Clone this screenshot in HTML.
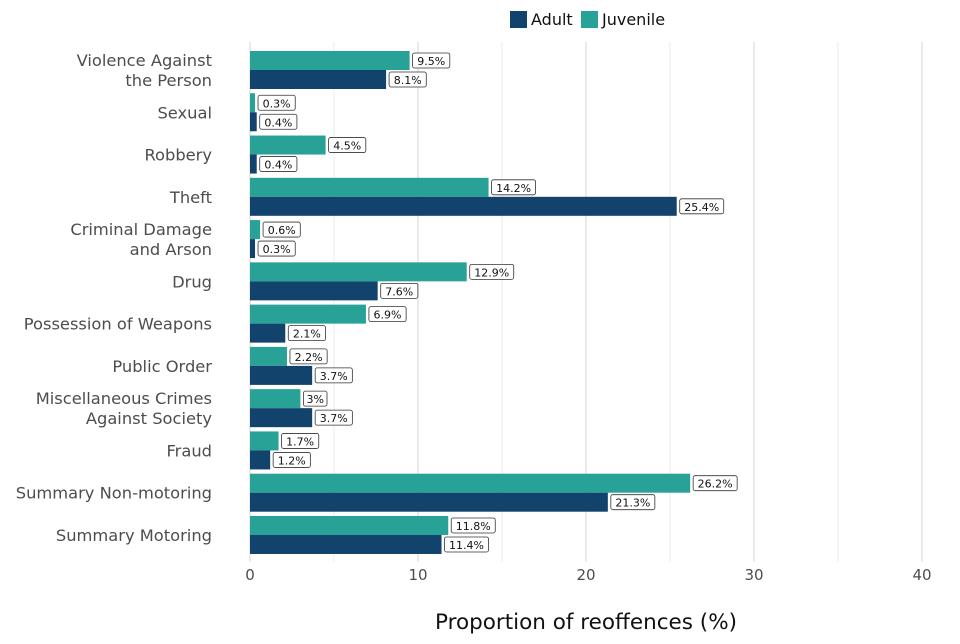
<!DOCTYPE html>
<html><head><meta charset="utf-8"><style>
body{margin:0;background:#fff;width:960px;height:640px;overflow:hidden;font-family:"DejaVu Sans","Liberation Sans",sans-serif}
</style></head><body>
<svg id="chart" width="960" height="640" xmlns="http://www.w3.org/2000/svg" font-family="DejaVu Sans, Liberation Sans, sans-serif"></svg>
<script>
const categories=[["Violence Against","the Person"],["Sexual"],["Robbery"],["Theft"],["Criminal Damage","and Arson"],["Drug"],["Possession of Weapons"],["Public Order"],["Miscellaneous Crimes","Against Society"],["Fraud"],["Summary Non-motoring"],["Summary Motoring"]];
const juvenileValues=[9.5,0.3,4.5,14.2,0.6,12.9,6.9,2.2,3,1.7,26.2,11.8];
const adultValues=[8.1,0.4,0.4,25.4,0.3,7.6,2.1,3.7,3.7,1.2,21.3,11.4];
const xTicks=[0,10,20,30,40];
const minorTicks=[5,15,25,35];
const NS="http://www.w3.org/2000/svg";
const svg=document.getElementById('chart');
const x=v=>250+v*16.8;
const yc=i=>70+i*42.27;
function el(t,a,p){const e=document.createElementNS(NS,t);for(const k in a)e.setAttribute(k,a[k]);(p||svg).appendChild(e);return e;}
const plotTop=42,plotBot=562;
minorTicks.forEach(t=>{const l=el('line',{x1:x(t),x2:x(t),y1:plotTop,y2:plotBot,stroke:'#ebebeb','stroke-width':1});

});
xTicks.forEach(t=>{const l=el('line',{x1:x(t),x2:x(t),y1:plotTop,y2:plotBot,stroke:'#d4d4d4','stroke-width':1});


const tx=el('text',{x:x(t),y:580,'text-anchor':'middle','font-size':15,fill:'#4d4d4d'});tx.textContent=t;

});
function bar(v,y0,color,name){
 const r=el('rect',{x:x(0),y:y0,width:x(v)-x(0),height:19,fill:color});
 
 
 const txt=v+'%';const w=txt.length*6.8+10;
 const b=el('rect',{x:x(v)+3,y:y0+2,width:w,height:15,rx:2,fill:'#fff',stroke:'#333','stroke-width':0.8});
 
 
 const t=el('text',{x:x(v)+3+w/2,y:y0+14,'text-anchor':'middle','font-size':11,fill:'#111'});t.textContent=txt;
 
 
}
categories.forEach((c,i)=>{
 const y=yc(i);
 bar(juvenileValues[i],y-19,'#28a197','juvenile-bar');
 bar(adultValues[i],y,'#12436d','adult-bar');
 const t=el('text',{x:212,'text-anchor':'end','font-size':16.3,fill:'#4d4d4d'});
 
 
 c.forEach((line,j)=>{const s=el('tspan',{x:212,y:y+6+(c.length===2?(j===0?-10:10):0)},t);s.textContent=line;});
});
const title=el('text',{x:586,y:629,'text-anchor':'middle','font-size':21.5,fill:'#111'});title.textContent='Proportion of reoffences (%)';


[['Adult','#12436d',510],['Juvenile','#28a197',581]].forEach(([n,c,lx])=>{
 const g=el('g',{});
 
 
 el('rect',{x:lx,y:11,width:17,height:17,fill:c},g);
 const t=el('text',{x:lx+21,y:25,'font-size':16,fill:'#111'},g);t.textContent=n;
});
</script>
</body></html>
